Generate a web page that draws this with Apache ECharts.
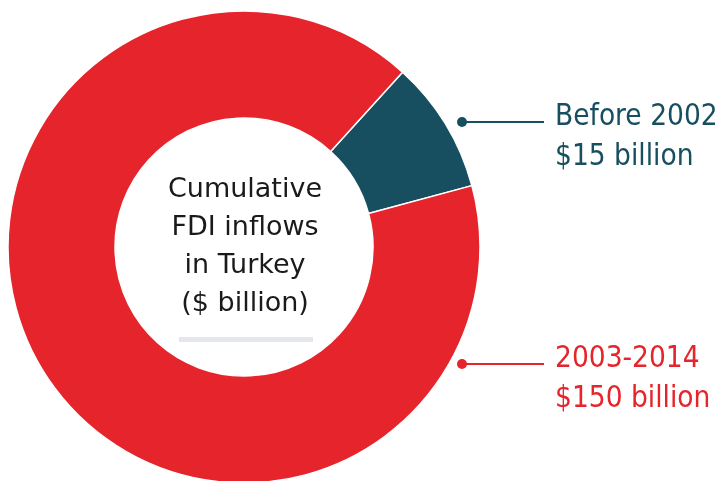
<!DOCTYPE html>
<html>
<head>
<meta charset="utf-8">
<script src="https://cdn.jsdelivr.net/npm/echarts@6/dist/echarts.min.js"></script>
<style>
  html, body { margin: 0; padding: 0; background: #fff; }
  #chart { width: 723px; height: 481px; }
</style>
</head>
<body>
<div id="chart"></div>
<script>
// FDI inflows into Turkey, cumulative ($ billion)
var periods = ['Before 2002', '2003-2014']
var inflows = [15, 150]
var amountLabels = ['$15 billion', '$150 billion']
var colors = ['#184f60', '#e5242b']
var centerLines = ['Cumulative', 'FDI inflows', 'in Turkey', '($ billion)']

var labelFont = '"DejaVu Sans Condensed", "Liberation Sans Narrow", sans-serif'

var chart = echarts.init(document.getElementById('chart'))

// callout: dot + line + two text lines, one per slice
function callout (i, y) {
  return [
    { type: 'circle', shape: { cx: 462, cy: y, r: 5 }, style: { fill: colors[i] } },
    { type: 'line', shape: { x1: 462, y1: y, x2: 544, y2: y }, style: { stroke: colors[i], lineWidth: 2 } },
    { type: 'text', x: 555, y: y + 10, style: { text: periods[i], font: '29.5px ' + labelFont, fill: colors[i], textVerticalAlign: 'bottom' } },
    { type: 'text', x: 555, y: y + 50, style: { text: amountLabels[i], font: '29.5px ' + labelFont, fill: colors[i], textVerticalAlign: 'bottom' } }
  ]
}

var graphics = []
graphics = graphics.concat(callout(0, 122), callout(1, 364))
centerLines.forEach(function (t, k) {
  graphics.push({
    type: 'text', x: 245, y: 203 + k * 38.3,
    style: { text: t, font: '27px "DejaVu Sans", sans-serif', fill: '#1a1a1a', textAlign: 'center', textVerticalAlign: 'bottom' }
  })
})
graphics.push({ type: 'rect', shape: { x: 179, y: 337, width: 134, height: 5 }, style: { fill: '#e4e8ec' } })

chart.setOption({
  animation: false,
  series: [{
    type: 'pie',
    center: [244, 247],
    radius: [129, 236],
    startAngle: 47.8,
    clockwise: true,
    silent: true,
    label: { show: false },
    labelLine: { show: false },
    itemStyle: { borderColor: '#fff', borderWidth: 1.5 },
    data: periods.map(function (p, i) {
      return { name: p, value: inflows[i], itemStyle: { color: colors[i] } }
    })
  }],
  graphic: graphics
})
</script>
</body>
</html>
